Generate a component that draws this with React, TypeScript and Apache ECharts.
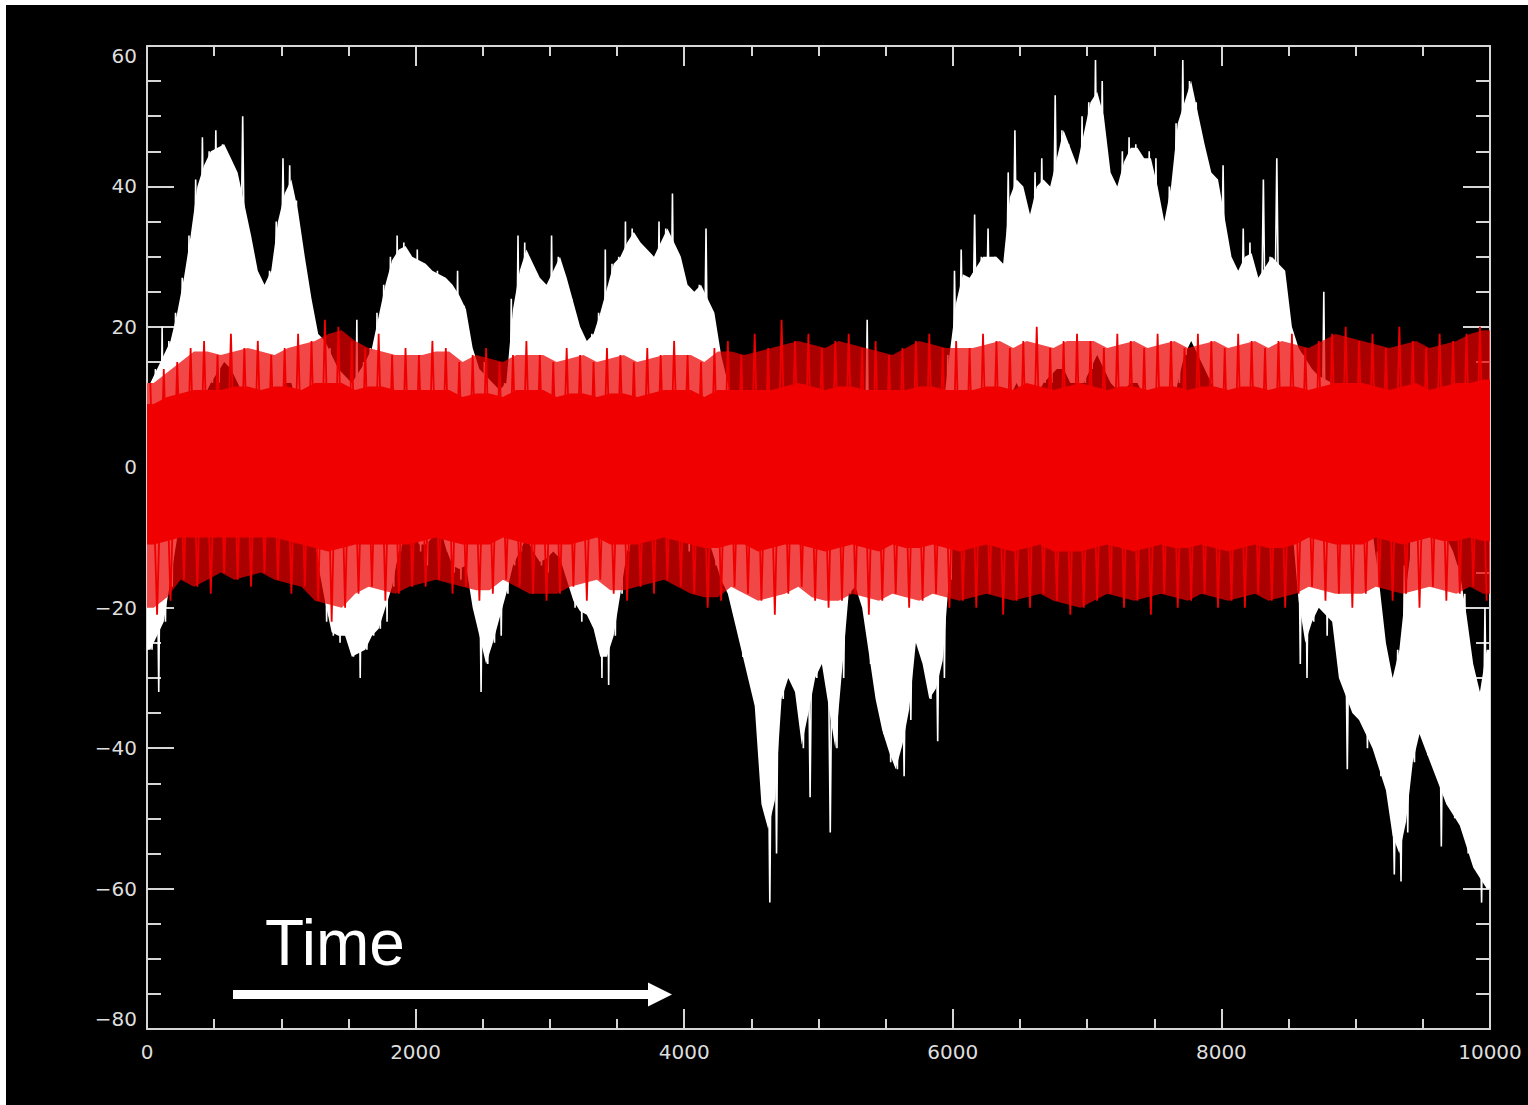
import React, { useEffect, useRef } from "react";
import * as echarts from "echarts";

// ---- data ----
// White series: envelope per 50-unit time bin (bin i covers i*50 .. i*50+50)
const WHITE_BIN = 50;
const whiteHi = [
  12, 14, 20, 18, 22, 27, 33, 41, 47, 45,
  48, 46, 44, 42, 50, 33, 28, 26, 28, 35,
  44, 43, 38, 30, 24, 19, 18, 17, 14, 13,
  12, 21, 15, 17, 22, 26, 30, 33, 32, 30,
  31, 29, 28, 28, 27, 26, 28, 23, 17, 14,
  15, 12, 11, 12, 24, 33, 32, 29, 27, 26,
  33, 30, 27, 24, 20, 18, 19, 22, 31, 29,
  30, 35, 34, 32, 31, 30, 35, 34, 39, 30,
  26, 25, 26, 34, 22, 16, 12, 8, 4, 2,
  0, -4, -8, -6, -2, 2, 0, -2, -4, 0,
  -2, -6, -2, 2, 4, 6, 8, 21, 0, -4,
  -6, -8, -6, -2, 2, 0, -2, 2, 8, 16,
  28, 31, 27, 36, 30, 34, 30, 29, 42, 48,
  40, 36, 42, 44, 40, 53, 48, 46, 43, 50,
  52, 58, 55, 42, 40, 45, 47, 46, 44, 45,
  44, 35, 40, 49, 58, 55, 52, 46, 42, 41,
  43, 30, 28, 34, 32, 27, 41, 30, 44, 28,
  20, 17, 16, 14, 13, 25, 12, 4, 0, -2,
  -4, -6, -8, -12, -25, -30, -26, -14, -8, -6,
  -8, -10, -8, -10, -12, -14, -18, -28, -32, -20,
];
const whiteLo = [
  -26, -32, -22, -17, -10, -6, 2, 6, 10, 12,
  12, 15, 14, 12, 10, 8, 5, 4, 6, 8,
  12, 12, 8, 4, -8, -14, -22, -24, -25, -24,
  -27, -30, -26, -24, -23, -22, -17, -12, -10, -8,
  -12, -14, -10, -8, -12, -15, -16, -14, -20, -32,
  -28, -25, -24, -18, -14, -12, -10, -12, -14, -15,
  -12, -13, -16, -20, -22, -21, -23, -30, -31, -24,
  -18, -12, -10, -8, -8, -10, -8, -6, -8, -10,
  -12, -10, -8, -10, -14, -16, -18, -22, -27, -30,
  -34, -48, -62, -55, -33, -30, -32, -40, -47, -30,
  -28, -52, -40, -30, -18, -17, -20, -28, -33, -38,
  -42, -43, -44, -36, -25, -28, -33, -39, -30, -16,
  0, 2, 4, 6, 8, 6, 8, 6, 10, 12,
  10, 8, 10, 12, 12, 14, 14, 12, 10, 12,
  14, 16, 14, 12, 10, 10, 12, 12, 10, 8,
  6, 4, 8, 12, 16, 18, 16, 14, 12, 10,
  8, 4, 2, 4, 6, 4, 2, 4, 2, -2,
  -8, -28, -30, -22, -20, -24, -22, -30, -43, -35,
  -36, -40, -40, -44, -46, -58, -59, -52, -42, -38,
  -41, -43, -54, -48, -50, -51, -55, -57, -62, -60,
];

// Red series: per 100-unit time bin, outer spike extent and solid core
const RED_BIN = 100;
const redHi = [
  12, 14, 15, 17, 18, 16, 19, 17, 18, 16,
  17, 19, 18, 21, 20, 18, 17, 19, 16, 17,
  16, 18, 17, 15, 16, 17, 15, 16, 18, 16,
  15, 17, 16, 15, 17, 16, 15, 17, 16, 18,
  16, 15, 17, 18, 16, 19, 17, 21, 18, 19,
  17, 18, 19, 17, 18, 16, 17, 18, 19, 17,
  18, 17, 19, 18, 17, 18, 20, 17, 18, 19,
  18, 17, 19, 18, 17, 19, 18, 17, 19, 18,
  17, 19, 18, 17, 18, 19, 17, 18, 19, 20,
  18, 19, 17, 20, 18, 17, 19, 18, 19, 20,
];
const redLo = [
  -21, -19, -16, -17, -18, -15, -16, -17, -15, -16,
  -18, -17, -19, -22, -20, -18, -17, -19, -18, -17,
  -17, -16, -18, -17, -19, -18, -16, -17, -18, -19,
  -18, -17, -19, -16, -18, -19, -17, -18, -16, -17,
  -18, -20, -19, -17, -18, -19, -21, -18, -17, -19,
  -20, -19, -18, -21, -19, -18, -20, -19, -18, -20,
  -19, -20, -18, -21, -19, -20, -18, -19, -21, -20,
  -19, -18, -20, -19, -21, -18, -20, -19, -18, -20,
  -19, -20, -18, -19, -20, -18, -17, -19, -18, -20,
  -18, -17, -19, -18, -20, -17, -19, -18, -17, -19,
];
const redCoreHi = [
  9, 10, 11, 11, 12, 11, 12, 12, 11, 12,
  12, 11, 12, 13, 12, 11, 12, 12, 11, 11,
  11, 12, 11, 10, 11, 11, 10, 11, 12, 11,
  10, 11, 11, 10, 11, 11, 10, 11, 11, 12,
  11, 10, 11, 12, 11, 12, 11, 13, 12, 12,
  11, 12, 12, 11, 12, 11, 11, 12, 12, 11,
  12, 11, 12, 12, 11, 12, 13, 11, 12, 12,
  12, 11, 12, 12, 11, 12, 12, 11, 12, 12,
  11, 12, 12, 11, 12, 12, 11, 12, 12, 13,
  12, 12, 11, 13, 12, 11, 12, 12, 12, 13,
];
const redCoreLo = [
  -11, -11, -10, -10, -11, -10, -10, -11, -10, -10,
  -11, -11, -12, -12, -12, -11, -11, -12, -11, -11,
  -11, -10, -11, -11, -12, -11, -10, -11, -11, -12,
  -11, -11, -12, -10, -11, -12, -11, -11, -10, -11,
  -11, -12, -12, -11, -11, -12, -13, -11, -11, -12,
  -12, -12, -11, -13, -12, -11, -12, -12, -11, -12,
  -12, -12, -11, -13, -12, -12, -11, -12, -13, -12,
  -12, -11, -12, -12, -13, -11, -12, -12, -11, -12,
  -12, -12, -11, -12, -12, -11, -10, -12, -11, -12,
  -11, -10, -12, -11, -12, -10, -11, -11, -10, -11,
];

// Axes
const X_MIN = 0;
const X_MAX = 10000;
const X_STEP = 2000;
const Y_MIN = -80;
const Y_MAX = 60;
const Y_STEP = 20;
const annotation = "Time";

const AXIS_COLOR = "#d6d6d6";
const LABEL_COLOR = "#dedede";

// Band drawing: a solid body (isolated peaks trimmed to the level of their
// neighbours) plus a thin zig-zag trace that reaches every bin's full hi / lo,
// so that single bins poking out show as thin spikes like the dense trace.
function bandRenderer(
  hi: number[],
  lo: number[],
  binW: number,
  bodyFill: string | null,
  traceColor: string | null,
  traceWidth: number
) {
  return (params: any, api: any) => {
    if (params.dataIndex !== 0) return null;
    const n = hi.length;
    const children: any[] = [];
    if (bodyFill) {
      const top: number[][] = [];
      const bot: number[][] = [];
      for (let i = 0; i < n; i++) {
        const a = Math.max(0, i - 1);
        const b = Math.min(n - 1, i + 1);
        const h = Math.min(hi[i], (hi[a] + hi[b]) / 2);
        const l = Math.max(lo[i], (lo[a] + lo[b]) / 2);
        if (i === 0) {
          top.push(api.coord([0, h]));
          bot.push(api.coord([0, l]));
        }
        top.push(api.coord([i * binW + binW / 2, h]));
        bot.push(api.coord([i * binW + binW / 2, l]));
        if (i === n - 1) {
          top.push(api.coord([n * binW, h]));
          bot.push(api.coord([n * binW, l]));
        }
      }
      children.push({
        type: "polygon",
        shape: { points: top.concat(bot.reverse()) },
        style: { fill: bodyFill },
      });
    }
    if (traceColor) {
      const pts: number[][] = [];
      for (let i = 0; i < n; i++) {
        pts.push(api.coord([i * binW + binW * 0.25, hi[i]]));
        pts.push(api.coord([i * binW + binW * 0.75, lo[i]]));
      }
      children.push({
        type: "polyline",
        shape: { points: pts },
        style: { stroke: traceColor, lineWidth: traceWidth, fill: null, lineJoin: "miter", miterLimit: 1 },
      });
    }
    return { type: "group", children };
  };
}

const fmtY = (v: number) => (v < 0 ? "\u2212" + Math.abs(v) : String(v));
const fmtX = (v: number) => String(v);

export default function App() {
  const ref = useRef<HTMLDivElement>(null);

  useEffect(() => {
    if (!ref.current) return;
    const chart = echarts.init(ref.current, undefined, { renderer: "svg" });

    const whiteData = whiteHi.map((h, i) => [i * WHITE_BIN, whiteLo[i], h]);
    const redData = redHi.map((h, i) => [i * RED_BIN, redLo[i], h]);
    const redCoreData = redCoreHi.map((h, i) => [i * RED_BIN, redCoreLo[i], h]);

    const xCommon = {
      type: "value",
      min: X_MIN,
      max: X_MAX,
      interval: X_STEP,
      splitLine: { show: false },
      minorSplitLine: { show: false },
      axisLine: { show: true, onZero: false, lineStyle: { color: AXIS_COLOR, width: 2 } },
      axisTick: { show: true, inside: true, length: 20, lineStyle: { color: AXIS_COLOR, width: 2 } },
      minorTick: { show: true, splitNumber: 4, length: 10, lineStyle: { color: AXIS_COLOR, width: 2 } },
    };
    const yCommon = {
      type: "value",
      min: Y_MIN,
      max: Y_MAX,
      interval: Y_STEP,
      splitLine: { show: false },
      minorSplitLine: { show: false },
      axisLine: { show: true, onZero: false, lineStyle: { color: AXIS_COLOR, width: 2 } },
      axisTick: { show: true, inside: true, length: 27, lineStyle: { color: AXIS_COLOR, width: 2 } },
      minorTick: { show: true, splitNumber: 4, length: 14, lineStyle: { color: AXIS_COLOR, width: 2 } },
    };

    const bandSeries = (name: string, data: number[][], renderItem: any, z: number) => ({
      type: "custom",
      name,
      xAxisIndex: 0,
      yAxisIndex: 0,
      renderItem,
      encode: { x: 0, y: [1, 2] },
      data,
      clip: true,
      silent: true,
      z,
    });

    chart.setOption({
      animation: false,
      backgroundColor: "#000000",
      grid: { left: 141, top: 41, width: 1343, height: 983, containLabel: false },
      xAxis: [
        {
          ...xCommon,
          position: "bottom",
          axisLabel: {
            show: true,
            color: LABEL_COLOR,
            fontFamily: "DejaVu Sans",
            fontSize: 20,
            margin: 13,
            formatter: fmtX,
          },
        },
        { ...xCommon, position: "top", axisLabel: { show: false } },
      ],
      yAxis: [
        {
          ...yCommon,
          position: "left",
          axisLabel: {
            show: true,
            color: LABEL_COLOR,
            fontFamily: "DejaVu Sans",
            fontSize: 20,
            margin: 10,
            formatter: fmtY,
            verticalAlignMinLabel: "bottom",
            verticalAlignMaxLabel: "top",
          },
        },
        { ...yCommon, position: "right", axisLabel: { show: false } },
      ],
      series: [
        bandSeries("white", whiteData, bandRenderer(whiteHi, whiteLo, WHITE_BIN, "#ffffff", "#ffffff", 1.6), 2),
        bandSeries("redSpikes", redData, bandRenderer(redHi, redLo, RED_BIN, "rgba(235,0,0,0.72)", "#ee0000", 1.8), 3),
        bandSeries("red", redCoreData, bandRenderer(redCoreHi, redCoreLo, RED_BIN, "#f00000", null, 0), 4),
      ],
      graphic: [
        {
          type: "text",
          left: 259,
          top: 906,
          z: 10,
          style: {
            text: annotation,
            font: '64px "Liberation Sans", Arial, sans-serif',
            fill: "#ffffff",
          },
        },
        {
          type: "line",
          z: 10,
          shape: { x1: 227, y1: 989.5, x2: 646, y2: 989.5 },
          style: { stroke: "#ffffff", lineWidth: 9 },
        },
        {
          type: "polygon",
          z: 10,
          shape: { points: [[642, 977.5], [666, 989.5], [642, 1001.5]] },
          style: { fill: "#ffffff" },
        },
      ],
    });

    return () => chart.dispose();
  }, []);

  return (
    <div
      style={{
        position: "fixed",
        left: 0,
        top: 0,
        width: 1528,
        height: 1105,
        background: "#ffffff",
        overflow: "hidden",
      }}
    >
      <div
        ref={ref}
        style={{ position: "absolute", left: 6, top: 5, width: 1522, height: 1100 }}
      />
    </div>
  );
}
